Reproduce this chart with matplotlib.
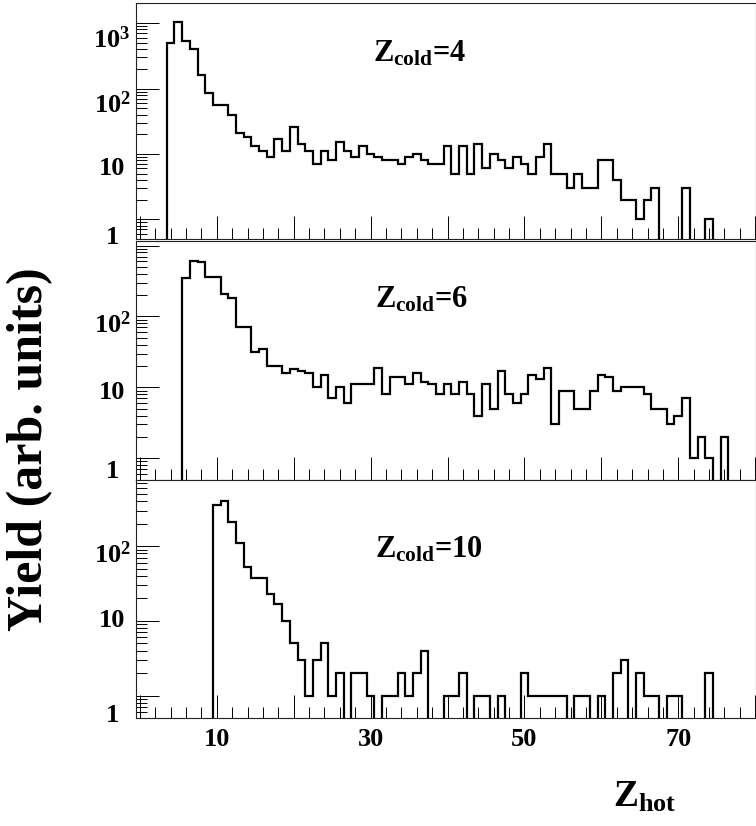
import numpy as np
import matplotlib
matplotlib.use("Agg")
import matplotlib.pyplot as plt
from matplotlib.ticker import MultipleLocator, LogLocator, NullFormatter, FixedLocator

plt.rcParams['font.family'] = ['Liberation Serif', 'DejaVu Serif']
plt.rcParams['font.weight'] = 'bold'
plt.rcParams['mathtext.fontset'] = 'custom'
plt.rcParams['mathtext.rm'] = 'Liberation Serif:bold'
plt.rcParams['mathtext.it'] = 'Liberation Serif:bold'
plt.rcParams['mathtext.bf'] = 'Liberation Serif:bold'

# ---------------- data (counts per integer Z_hot bin) ----------------
zstart_4 = 4
counts_4 = [500, 1050, 525, 400, 162, 85, 56, 55, 40, 21, 18, 13, 11, 9, 17, 11,
            26, 14, 11, 7, 11, 8, 15, 11, 9, 13, 10, 9, 8, 8, 7, 9, 10, 8, 7, 7,
            13, 5, 13, 5, 14, 6, 10, 8, 6, 9, 7, 5, 9, 14, 5, 5, 3, 5, 3, 3,
            8, 8, 4, 2, 2, 1, 2, 3, 0, 0, 0, 3, 0, 0, 1]

zstart_6 = 6
counts_6 = [347, 605, 590, 355, 355, 205, 185, 72, 70, 32, 35, 20, 20, 16, 18, 17,
            16, 10, 15, 7, 10, 6, 11, 11, 11, 19, 8, 14, 14, 11, 16, 12, 11, 8, 11,
            8, 12, 8, 4, 11, 5, 17, 8, 6, 8, 15, 13, 19, 3, 9, 9, 5, 5, 9, 15, 14,
            9, 10, 10, 10, 8, 5, 5, 3, 4, 7, 1, 2, 1, 0, 2]

zstart_10 = 10
counts_10 = [355, 400, 208, 112, 53, 37, 37, 23, 17, 10, 5, 3, 1, 3, 5, 1, 2, 0,
             2, 2, 1, 0, 1, 1, 2, 1, 2, 4, 0, 0, 1, 1, 2, 0, 1, 1, 0, 1, 0, 0, 2,
             1, 1, 1, 1, 1, 0, 1, 1, 0, 1, 0, 2, 3, 0, 2, 1, 1, 0, 1, 1, 0, 0, 0, 2]

panel_labels = [r'$Z_{cold}$=4', r'$Z_{cold}$=6', r'$Z_{cold}$=10']
ytick_vals = [[1, 10, 100, 1000], [1, 10, 100], [1, 10, 100]]
ytick_text = [['1', '10', r'$10^{2}$', r'$10^{3}$'],
              ['1', '10', r'$10^{2}$'],
              ['1', '10', r'$10^{2}$']]
xtick_vals = [0, 10, 20, 30, 40, 50, 60, 70, 80]
xtick_text = ['', '10', '', '30', '', '50', '', '70', '']

# ---------------- layout ----------------
W, H = 756, 826
fig = plt.figure(figsize=(W / 100, H / 100), dpi=100)

panels = [
    dict(z0=zstart_4, c=counts_4, top=3, bot=239, ylim=(0.5, 2030),
         lab_off=[18, 15, 16, 17], txt=(373, 62)),
    dict(z0=zstart_6, c=counts_6, top=240.5, bot=479.5, ylim=(0.5, 1180),
         lab_off=[13, 5, 8], txt=(375, 307)),
    dict(z0=zstart_10, c=counts_10, top=480, bot=718, ylim=(0.5, 770),
         lab_off=[20, 0, 8], txt=(375, 557)),
]

left_px = 136
for i, p in enumerate(panels):
    ax = fig.add_axes([left_px / W, 1 - p['bot'] / H, (W - left_px) / W,
                       (p['bot'] - p['top']) / H])
    ax.set_yscale('log')
    counts = np.asarray(p['c'], dtype=float)
    edges = np.arange(len(counts) + 1) + p['z0'] - 0.5
    ax.stairs(counts, edges, baseline=0, color='black', linewidth=1.6)
    ax.set_xlim(-0.5, 80.1)
    ax.set_ylim(*p['ylim'])

    for s in ax.spines.values():
        s.set_linewidth(0.8)
        s.set_color('#222222')

    ax.xaxis.set_major_locator(FixedLocator(xtick_vals))
    ax.xaxis.set_minor_locator(MultipleLocator(2))
    ax.tick_params(axis='x', which='major', direction='in', length=16.5,
                   width=0.7, bottom=True, top=False, pad=7, labelsize=19)
    ax.tick_params(axis='x', which='minor', direction='in', length=8,
                   width=0.7, bottom=True, top=False)
    if i == 2:
        ax.set_xticklabels(xtick_text)
    else:
        ax.set_xticklabels([])

    ax.yaxis.set_major_locator(LogLocator(base=10, numticks=10))
    ax.yaxis.set_minor_locator(LogLocator(base=10, subs=np.arange(2, 10), numticks=10))
    ax.yaxis.set_major_formatter(NullFormatter())
    ax.yaxis.set_minor_formatter(NullFormatter())
    ax.tick_params(axis='y', which='major', direction='in', length=16.5,
                   width=0.7, left=True, right=False)
    ax.tick_params(axis='y', which='minor', direction='in', length=8,
                   width=0.7, left=True, right=False)

    for val, txt, off in zip(ytick_vals[i], ytick_text[i], p['lab_off']):
        ax.annotate(txt, xy=(0, val), xycoords=('axes fraction', 'data'),
                    xytext=(-24 * 0.72, -off * 0.72), textcoords='offset points',
                    ha='center', va='center', fontsize=19, annotation_clip=False)

    tx, ty = p['txt']
    fig.text(tx / W, 1 - ty / H, panel_labels[i], fontsize=22,
             ha='left', va='baseline')

fig.text(30 / W, 1 - 449 / H, 'Yield (arb. units)', rotation=90,
         ha='center', va='center', fontsize=36)
fig.text(613 / W, 1 - 807 / H, r'$Z_{hot}$', fontsize=27,
         ha='left', va='baseline')

fig.savefig('out.png', dpi=100)
